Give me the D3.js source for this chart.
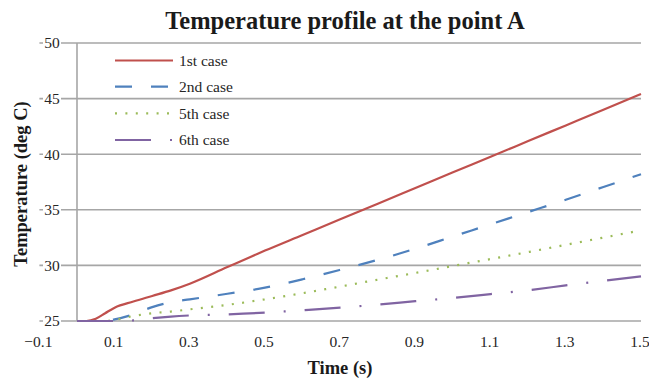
<!DOCTYPE html>
<html>
<head>
<meta charset="utf-8">
<script src="https://cdn.jsdelivr.net/npm/d3@7"></script>
<style>
  html, body { margin: 0; padding: 0; background: #fff; }
  svg { display: block; font-family: "Liberation Serif", "Times New Roman", serif; }
</style>
</head>
<body>
<svg id="chart" width="649" height="381"></svg>
<script>
// Time samples (s)
const time = [0, 0.025, 0.05, 0.075, 0.1, 0.15, 0.2, 0.25, 0.3, 0.4, 0.5, 0.6, 0.7, 0.8, 0.9, 1.0, 1.1, 1.2, 1.3, 1.4, 1.5];

// Temperature at point A (deg C) for each case
const case1 = [25, 25, 25.2, 25.7, 26.2, 26.75, 27.25, 27.75, 28.35, 29.85, 31.33, 32.74, 34.15, 35.55, 36.96, 38.37, 39.77, 41.18, 42.59, 44.0, 45.42];
const case2 = [25, 25, 25, 25.05, 25.15, 25.6, 26.25, 26.7, 26.95, 27.45, 28.0, 28.75, 29.6, 30.5, 31.5, 32.6, 33.7, 34.8, 35.9, 37.05, 38.2];
const case5 = [25, 25, 25, 25, 25.1, 25.45, 25.7, 25.85, 26.05, 26.45, 26.95, 27.5, 28.1, 28.72, 29.32, 29.95, 30.57, 31.2, 31.85, 32.5, 33.15];
const case6 = [25, 25, 25, 25, 25, 25.05, 25.25, 25.4, 25.5, 25.6, 25.75, 25.97, 26.2, 26.47, 26.78, 27.08, 27.42, 27.77, 28.2, 28.62, 29.02];

const seriesNames = ["1st case", "2nd case", "5th case", "6th case"];
const xTicks = [-0.1, 0.1, 0.3, 0.5, 0.7, 0.9, 1.1, 1.3, 1.5];
const yTicks = [25, 30, 35, 40, 45, 50];

const styles = [
  { color: "#C0504D", dash: null },
  { color: "#4F81BD", dash: "17,19" },
  { color: "#9BBB59", dash: "2,8.4" },
  { color: "#8064A2", dash: "36,19,2,19" }
];
const seriesValues = [case1, case2, case5, case6];

const svg = d3.select("#chart");

const x = d3.scaleLinear().domain([-0.1, 1.5]).range([39.4, 641]);
const y = d3.scaleLinear().domain([25, 50]).range([321, 43]);

// Horizontal gridlines across the full plot width
svg.append("g").selectAll("line").data(yTicks).join("line")
  .attr("x1", x(-0.1)).attr("x2", x(1.5))
  .attr("y1", d => y(d)).attr("y2", d => y(d))
  .attr("stroke", "#A6A6A6").attr("stroke-width", 1.6);

// Vertical axis line at t = 0
svg.append("line")
  .attr("x1", x(0)).attr("x2", x(0))
  .attr("y1", y(50)).attr("y2", y(25))
  .attr("stroke", "#A6A6A6").attr("stroke-width", 1.6);

// Y tick labels sit on a white patch over the gridline
const yLab = svg.append("g").selectAll("g").data(yTicks).join("g")
  .attr("transform", d => `translate(52,${y(d)})`);
yLab.append("rect").attr("x", -9).attr("y", -6).attr("width", 18).attr("height", 12).attr("fill", "#fff");
yLab.append("text")
  .attr("text-anchor", "middle").attr("dy", "0.35em")
  .attr("font-size", 15.5).attr("fill", "#262626")
  .text(d => d);

// X tick labels
svg.append("g").selectAll("text").data(xTicks).join("text")
  .attr("x", d => x(d) - 1).attr("y", 347)
  .attr("text-anchor", "middle")
  .attr("font-size", 15.5).attr("fill", "#262626")
  .text(d => d3.format(".1f")(d));

// Series lines
const line = d3.line().x((d, i) => x(time[i])).y(d => y(d)).curve(d3.curveMonotoneX);
seriesValues.forEach((vals, k) => {
  svg.append("path")
    .datum(vals)
    .attr("d", line)
    .attr("fill", "none")
    .attr("stroke", styles[k].color)
    .attr("stroke-width", 2.2)
    .attr("stroke-dasharray", styles[k].dash);
});

// Legend
const legend = svg.append("g").attr("transform", "translate(115,0)");
const legendY = [60.5, 86.7, 113.3, 140];
seriesNames.forEach((name, k) => {
  legend.append("line")
    .attr("x1", 0).attr("x2", 58)
    .attr("y1", legendY[k]).attr("y2", legendY[k])
    .attr("stroke", styles[k].color).attr("stroke-width", 2.2)
    .attr("stroke-dasharray", styles[k].dash);
  legend.append("text")
    .attr("x", 64).attr("y", legendY[k]).attr("dy", "0.35em")
    .attr("font-size", 15.5).attr("fill", "#262626")
    .text(name);
});

// Titles
svg.append("text")
  .attr("x", 345).attr("y", 29)
  .attr("text-anchor", "middle")
  .attr("font-size", 24.5).attr("font-weight", "bold").attr("fill", "#1a1a1a")
  .text("Temperature profile at the point A");

svg.append("text")
  .attr("x", 340).attr("y", 374)
  .attr("text-anchor", "middle")
  .attr("font-size", 18.5).attr("font-weight", "bold").attr("fill", "#1a1a1a")
  .text("Time (s)");

svg.append("text")
  .attr("transform", "translate(27,184) rotate(-90)")
  .attr("text-anchor", "middle")
  .attr("font-size", 18.5).attr("font-weight", "bold").attr("fill", "#1a1a1a")
  .text("Temperature (deg C)");
</script>
</body>
</html>
